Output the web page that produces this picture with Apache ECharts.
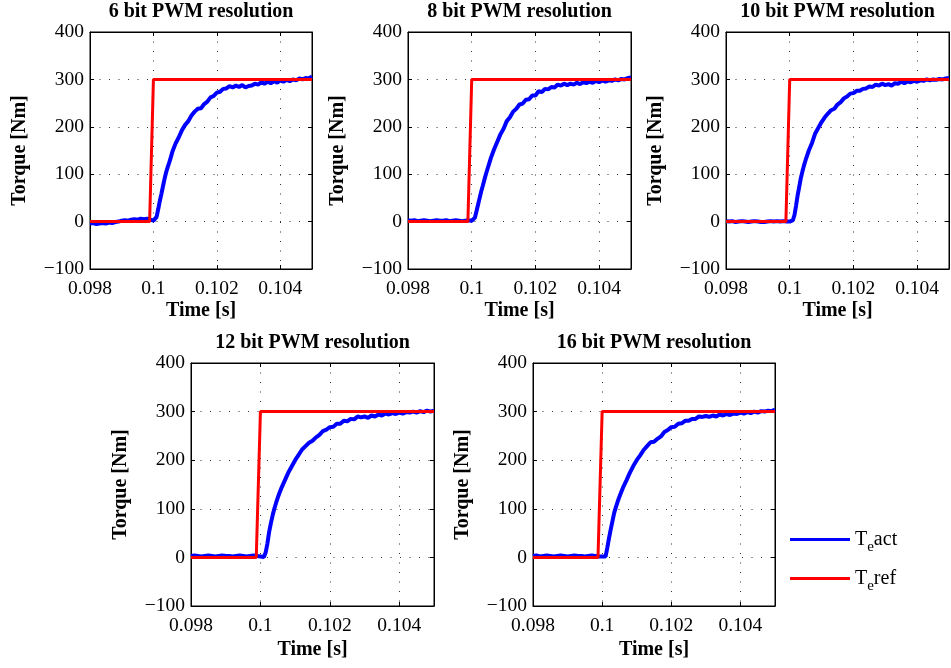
<!DOCTYPE html>
<html><head><meta charset="utf-8">
<script src="https://cdn.jsdelivr.net/npm/echarts@6/dist/echarts.min.js"></script>
<style>html,body{margin:0;padding:0;background:#fff}#c{width:951px;height:668px}</style>
</head><body><div id="c"></div>
<script>
// ---- data ----
const plotTitles = ['6 bit PWM resolution','8 bit PWM resolution','10 bit PWM resolution','12 bit PWM resolution','16 bit PWM resolution'];
const xTickMin = 0.098, xTickMax = 0.105, xTickStep = 0.002;
const yTickMin = -100, yTickMax = 400, yTickStep = 100;

const timeS = [
 0.0980,0.0981,0.0982,0.0983,0.0984,0.0985,0.0986,0.0987,0.0988,0.0989,
 0.0990,0.0991,0.0992,0.0993,0.0994,0.0995,0.0996,0.0997,0.0998,0.0999,
 0.10000,0.10005,0.10010,0.10015,0.10020,0.10025,0.10030,0.10035,0.10040,0.10045,0.10050,0.10055,0.10060,
 0.1007,0.1008,0.1009,0.1010,0.1011,0.1012,0.1013,0.1014,0.1015,0.1016,
 0.1017,0.1018,0.1019,0.1020,0.1021,0.1022,0.1023,0.1024,0.1025,0.1026,
 0.1027,0.1028,0.1029,0.1030,0.1031,0.1032,0.1033,0.1034,0.1035,0.1036,
 0.1037,0.1038,0.1039,0.1040,0.1041,0.1042,0.1043,0.1044,0.1045,0.1046,
 0.1047,0.1048,0.1049,0.1050
];
const act6 = [
 -4,-3,-5,-4,-3,-4,-2,-3,-1,0,2,3,2,4,5,4,6,5,6,4,
 2,-2,10,26,43,58,74,90,104,115,125,136,148,
 165,178,193,204,212,224,232,238,239,248,
 253,262,265,272,274,280,281,286,283,287,
 284,288,283,286,287,291,289,294,291,295,
 292,296,293,298,295,299,296,300,298,302,
 300,303,302,306
];
const act8 = [
 3,2,3,1,2,3,2,1,2,3,2,2,3,1,2,3,2,1,2,3,
 2,1,8,22,36,50,64,76,89,101,112,123,134,
 152,168,184,196,212,220,232,238,247,249,
 257,258,266,266,275,273,280,279,284,283,
 289,287,291,288,291,289,293,290,294,292,
 295,293,297,294,298,295,298,297,300,298,
 301,300,303,304
];
const act10 = [
 1,0,1,-1,0,1,0,-1,0,1,0,-1,-1,0,1,0,1,0,1,0,
 0,-1,3,14,34,56,74,92,106,119,130,140,150,
 166,186,198,210,220,228,235,238,247,252,
 260,264,270,271,276,276,280,281,285,284,
 289,287,291,288,290,287,292,291,295,292,
 296,294,297,295,298,297,300,298,300,299,
 301,300,302,303
];
const act12 = [
 3,4,3,2,3,4,3,2,3,4,3,3,2,3,4,3,2,3,4,3,
 2,1,1,10,28,52,70,86,100,112,123,133,142,
 158,174,187,200,211,222,229,236,240,247,
 252,260,263,268,269,275,275,281,280,285,
 284,290,288,290,287,292,290,294,292,296,
 294,297,295,298,296,299,298,300,298,301,
 299,302,300,302
];
const act16 = [
 3,4,2,3,4,3,2,3,4,3,2,3,4,3,3,2,3,4,3,2,
 2,1,2,20,40,58,75,92,104,115,125,134,143,
 158,174,188,200,210,221,229,237,238,244,
 249,258,262,268,269,275,276,281,281,285,
 285,290,289,291,289,292,290,294,292,295,
 293,296,295,298,296,299,297,300,298,301,
 300,302,301,304
];
const refTime = [0.0980, 0.09988, 0.1000, 0.1050];
const refVal  = [0, 0, 300, 300];
const actSets = [act6, act8, act10, act12, act16];

// ---- chart ----
const FONT = "'Liberation Serif','Times New Roman',Times,serif";
const boxes = [
 {left:90,  top:32,  width:222, height:237, nameGap:32},
 {left:408, top:32,  width:223, height:237, nameGap:32},
 {left:726, top:32,  width:223, height:237, nameGap:32},
 {left:191, top:363, width:243, height:243, nameGap:34},
 {left:533, top:363, width:242, height:243, nameGap:34}
];
const fmtX = v => String(parseFloat(v.toFixed(4)));
const fmtY = v => v < 0 ? '\u2212' + Math.abs(v) : String(v);

const grid = [], xAxis = [], yAxis = [], title = [], series = [];
boxes.forEach((b, i) => {
  grid.push({left:b.left, top:b.top, width:b.width, height:b.height, show:true, borderColor:'#000', borderWidth:1, containLabel:false});
  title.push({text:plotTitles[i], left:b.left + b.width/2, top:b.top - 30, textAlign:'center', padding:0,
    textStyle:{fontFamily:FONT, fontWeight:'bold', fontSize:20, color:'#000'}});
  const common = {type:'value', gridIndex:i, min:xTickMin, max:xTickMax, interval:xTickStep};
  xAxis.push(Object.assign({}, common, {
    position:'bottom',
    name:'Time [s]', nameLocation:'middle', nameGap:b.nameGap,
    nameTextStyle:{fontFamily:FONT, fontWeight:'bold', fontSize:20, color:'#000'},
    axisLine:{show:true, onZero:false, lineStyle:{color:'#000', width:1}},
    axisTick:{show:true, inside:true, length:4, lineStyle:{color:'#000'}},
    axisLabel:{show:true, margin:10, formatter:fmtX, showMaxLabel:false, fontFamily:FONT, fontSize:19.5, color:'#000'},
    splitLine:{show:true, lineStyle:{color:'#333', width:1, type:[1,8.5]}}
  }));
  xAxis.push(Object.assign({}, common, {
    position:'top',
    axisLine:{show:true, onZero:false, lineStyle:{color:'#000', width:1}},
    axisTick:{show:true, inside:true, length:4, lineStyle:{color:'#000'}},
    axisLabel:{show:false}, splitLine:{show:false}
  }));
  const ycommon = {type:'value', gridIndex:i, min:yTickMin, max:yTickMax, interval:yTickStep};
  yAxis.push(Object.assign({}, ycommon, {
    position:'left',
    name:'Torque [Nm]', nameLocation:'middle', nameGap:60,
    nameTextStyle:{fontFamily:FONT, fontWeight:'bold', fontSize:20, color:'#000'},
    axisLine:{show:true, onZero:false, lineStyle:{color:'#000', width:1}},
    axisTick:{show:true, inside:true, length:4, lineStyle:{color:'#000'}},
    axisLabel:{show:true, margin:6, formatter:fmtY, fontFamily:FONT, fontSize:19.5, color:'#000'},
    splitLine:{show:true, lineStyle:{color:'#333', width:1, type:[1,8.5]}}
  }));
  yAxis.push(Object.assign({}, ycommon, {
    position:'right',
    axisLine:{show:true, onZero:false, lineStyle:{color:'#000', width:1}},
    axisTick:{show:true, inside:true, length:4, lineStyle:{color:'#000'}},
    axisLabel:{show:false}, splitLine:{show:false}
  }));
  series.push({
    name:'Teact', type:'line', xAxisIndex:2*i, yAxisIndex:2*i,
    data: timeS.map((t, k) => [t, actSets[i][k]]),
    symbol:'none', showSymbol:false, smooth:false,
    lineStyle:{color:'#0000ff', width:4}, itemStyle:{color:'#0000ff'}, z:2
  });
  series.push({
    name:'Teref', type:'line', xAxisIndex:2*i, yAxisIndex:2*i,
    data: refTime.map((t, k) => [t, refVal[k]]),
    symbol:'none', showSymbol:false,
    lineStyle:{color:'#ff0000', width:3}, itemStyle:{color:'#ff0000'}, z:3
  });
});

const chart = echarts.init(document.getElementById('c'), null, {renderer:'canvas'});
chart.setOption({
  animation:false,
  backgroundColor:'#fff',
  title, grid, xAxis, yAxis, series,
  legend:{
    orient:'vertical', left:790, top:524, padding:0, itemWidth:60, itemHeight:3, itemGap:8,
    icon:'rect',
    data:['Teact','Teref'], selectedMode:false,
    formatter: n => n === 'Teact' ? '{t|T}{s|e}{t|act}' : '{t|T}{s|e}{t|ref}',
    textStyle:{fontFamily:FONT, fontSize:20, color:'#000',
      rich:{
        t:{fontFamily:FONT, fontSize:20, lineHeight:20, color:'#000'},
        s:{fontFamily:FONT, fontSize:15, lineHeight:20, color:'#000', padding:[16,0,0,0]}
      }}
  }
});
</script></body></html>
